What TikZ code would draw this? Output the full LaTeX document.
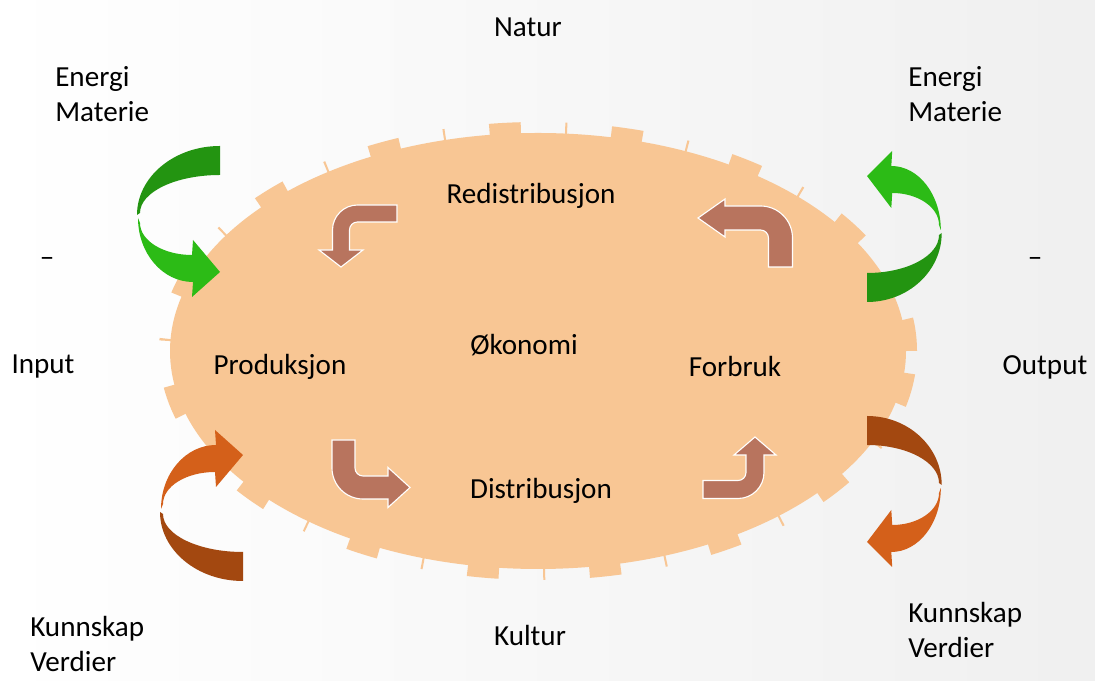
\documentclass[tikz,border=0pt]{standalone}
\usepackage{fontspec}
\setmainfont{Carlito}
\usepackage{tikz}

\definecolor{oval}{RGB}{248,198,148}
\definecolor{greendark}{RGB}{35,148,17}
\definecolor{greenlight}{RGB}{44,187,22}
\definecolor{browndark}{RGB}{163,72,16}
\definecolor{brownlight}{RGB}{212,96,26}
\definecolor{flow}{RGB}{184,116,94}

% big turning arrow: #1 placement, #2 back band, #3 front band with head
\newcommand{\uturnarrow}[3]{%
  \begin{scope}[#1]
    \fill[#2] (0,14) arc (90:180:83 and 69) -- (-80,-53) arc (180:90:80 and 38) -- cycle;
    \fill[#3] (-82,-58) arc (180:270:55 and 64) -- (-28,-137) -- (0,-112) -- (-27,-80)
      -- (-28,-95) arc (270:180:52 and 32) -- cycle;
  \end{scope}}

% bent arrow inside the oval: #1 placement, #2 leg, #3 half width, #4 turn to head, #5 head half width, #6 head length
\newcommand{\bentarrow}[6]{%
  \begin{scope}[#1]
    \filldraw[flowarrow] (0,#3) -- ({-#2+#3+8},#3) arc (90:180:{2*#3+8}) -- ({-#2-#3},-#4)
      -- ({-#2-#5},-#4) -- (-#2,{-#4-#6}) -- ({-#2+#5},-#4) -- ({-#2+#3},-#4)
      -- ({-#2+#3},{-#3-8}) arc (180:90:8) -- (0,-#3) -- cycle;
  \end{scope}}

\begin{document}
\begin{tikzpicture}[x=0.025cm, y=0.025cm,
    txt/.style={font=\fontsize{20.7}{24.8}\selectfont, align=left, inner sep=0pt},
    flowarrow/.style={fill=flow, draw=white, line width=0.8pt}]
  \useasboundingbox (0,0) rectangle (1095,681);
  \shade[left color=white, right color=black!6] (0,0) rectangle (1095,681);

  % the economy
  \fill[oval] (538,330) ellipse (368 and 218);
  \draw[oval, line width=0.55cm, dash pattern=on 0.78cm off 1.1cm on 0.05cm off 1.1cm] (538,330) ellipse (368 and 218);

  % flows in and out
  \uturnarrow{shift={(220,521)}}{greendark}{greenlight}
  \uturnarrow{shift={(867,393)}, xscale=-0.9, yscale=-1}{greendark}{greenlight}
  \uturnarrow{shift={(243,114)}, yscale=-1}{browndark}{brownlight}
  \uturnarrow{shift={(867,251)}, xscale=-0.9}{browndark}{brownlight}

  % circulation
  \bentarrow{shift={(397,467.5)}}{56}{8.5}{36.5}{22}{17}
  \bentarrow{shift={(780.5,414)}, rotate=-90}{49}{12}{55.5}{19}{27}
  \bentarrow{shift={(343.5,241)}, rotate=90}{47.5}{11.5}{44.5}{20}{22}
  \bentarrow{shift={(703,191.5)}, rotate=180}{52}{9}{34.5}{21}{18}

  \node[txt] (natur) at (528,654) {Natur};
  \node[txt] (kultur) at (530,45) {Kultur};
  \node[txt, anchor=west] (energiL) at (55,587) {Energi\\Materie};
  \node[txt, anchor=west] (energiR) at (908,587) {Energi\\Materie};
  \node[txt, anchor=west] (kunnskapL) at (30,37) {Kunnskap\\Verdier};
  \node[txt, anchor=west] (kunnskapR) at (908,51) {Kunnskap\\Verdier};
  \node[txt] (dashL) at (47,419) {–};
  \node[txt] (dashR) at (1035,419) {–};
  \node[txt] (input) at (43,314) {Input};
  \node[txt] (output) at (1045,314) {Output};
  \node[txt] (prod) at (280,314) {Produksjon};
  \node[txt] (okonomi) at (524,336) {Økonomi};
  \node[txt] (forbruk) at (735,314) {Forbruk};
  \node[txt] (redist) at (531,485) {Redistribusjon};
  \node[txt] (dist) at (541,190) {Distribusjon};
\end{tikzpicture}
\end{document}
